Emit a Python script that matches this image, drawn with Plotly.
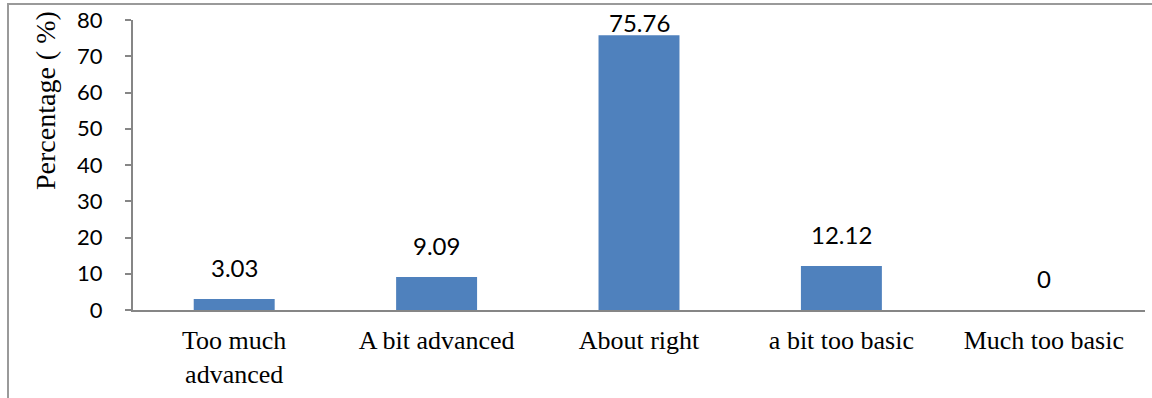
import plotly.graph_objects as go

categories = ["Too much<br>advanced", "A bit advanced", "About right", "a bit too basic", "Much too basic"]
values = [3.03, 9.09, 75.76, 12.12, 0]
label_texts = ["3.03", "9.09", "75.76", "12.12", "0"]
y_ticks = [0, 10, 20, 30, 40, 50, 60, 70, 80]

W, H = 1152, 398
ml, mr, mt, mb = 133, 7, 20, 88
pw = W - ml - mr
ph = H - mt - mb

fig = go.Figure()
fig.add_trace(go.Bar(
    x=categories, y=values,
    marker=dict(color="#4F81BD", line=dict(width=0)),
    width=0.4,
    hoverinfo="skip",
))

for c, v, t in zip(categories, values, label_texts):
    # label sits above the bar; kept inside the plot area when near the top
    shift = 15 if v < 70 else -4
    fig.add_annotation(
        x=c, y=v, text=t, showarrow=False, xref="x", yref="y",
        yanchor="bottom", yshift=shift,
        font=dict(family="Lato", size=24, color="#000000"),
    )

# y-axis title
fig.add_annotation(
    text="Percentage ( %)", textangle=-90, showarrow=False,
    xref="paper", yref="paper",
    x=(45 - ml) / pw, y=(mt + ph - 101) / ph,
    xanchor="center", yanchor="middle",
    font=dict(family="Liberation Serif, Times New Roman, serif", size=28, color="#000000"),
)

# outer chart frame
fig.add_shape(
    type="rect", xref="paper", yref="paper",
    x0=(8 - ml) / pw, x1=(1170 - ml) / pw,
    y0=(mt + ph - 420) / ph, y1=(mt + ph - 4) / ph,
    line=dict(color="#9a9a9a", width=2), fillcolor="rgba(0,0,0,0)", layer="below",
)

fig.update_layout(
    width=W, height=H,
    margin=dict(l=ml, r=mr, t=mt, b=mb, pad=0),
    paper_bgcolor="white", plot_bgcolor="white",
    showlegend=False,
    bargap=0.6,
)
fig.update_xaxes(
    showline=True, linecolor="#868686", linewidth=2,
    ticks="", showgrid=False, zeroline=False,
    tickfont=dict(family="Liberation Serif, Times New Roman, serif", size=26, color="#000000"),
    ticklabelstandoff=6,
)
fig.update_yaxes(
    range=[0, 80], tickvals=y_ticks,
    showline=True, linecolor="#868686", linewidth=2,
    ticks="outside", ticklen=6, tickwidth=2, tickcolor="#868686",
    showgrid=False, zeroline=False,
    tickfont=dict(family="Lato", size=22, color="#000000"),
    ticklabelstandoff=18,
)

fig.write_html("out.html")
